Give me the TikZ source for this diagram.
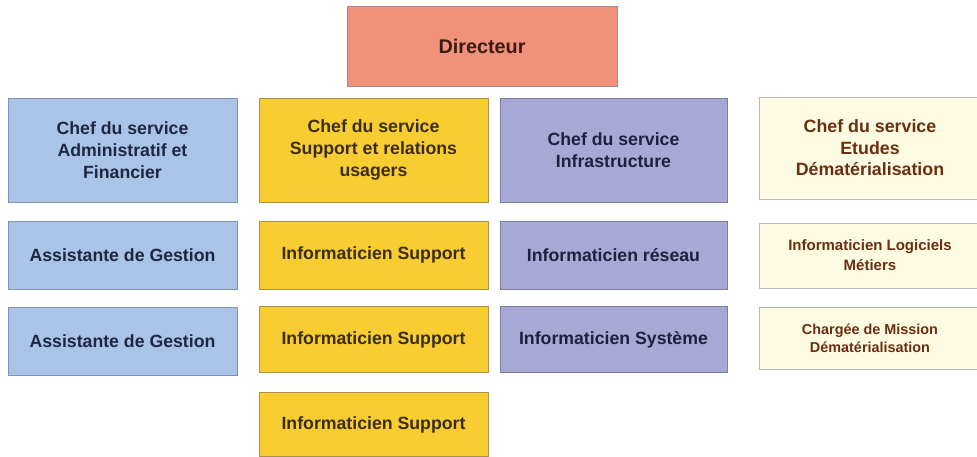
\documentclass[tikz,border=0pt]{standalone}
\usepackage{fontspec}
\setmainfont{Liberation Sans}
\begin{document}
\definecolor{dirfill}{HTML}{F0917A}
\definecolor{admfill}{HTML}{A9C4E7}
\definecolor{supfill}{HTML}{F8CD32}
\definecolor{inffill}{HTML}{A7A9D4}
\definecolor{etufill}{HTML}{FDFCE3}
\definecolor{dirline}{HTML}{9A8C9A}
\definecolor{admline}{HTML}{7F93B2}
\definecolor{supline}{HTML}{A8924A}
\definecolor{infline}{HTML}{7C7EA6}
\definecolor{etuline}{HTML}{B8B8B0}
\definecolor{dirtext}{HTML}{3A1A12}
\definecolor{admtext}{HTML}{1E2742}
\definecolor{suptext}{HTML}{3B2C14}
\definecolor{inftext}{HTML}{1E2040}
\definecolor{etutext}{HTML}{6A2E12}
\begin{tikzpicture}[x=1pt,y=-1pt,
  box/.style={rectangle,line width=0.8pt,inner sep=2pt,
    align=center,font=\bfseries\fontsize{17.7}{22}\selectfont},
  dirbox/.style={box,draw=dirline,fill=dirfill,text=dirtext,font=\bfseries\fontsize{19.8}{23}\selectfont},
  admbox/.style={box,draw=admline,fill=admfill,text=admtext},
  supbox/.style={box,draw=supline,fill=supfill,text=suptext},
  infbox/.style={box,draw=infline,fill=inffill,text=inftext},
  etubox/.style={box,draw=etuline,fill=etufill,text=etutext},
  % size of a box, from its width and height
  sz/.style 2 args={minimum width=#1pt,minimum height=#2pt}]
\useasboundingbox (0,0) rectangle (977,457);

% director
\node[dirbox,sz={270}{80}] (dir) at (482,46) {Directeur};

% administrative and finance service
\node[admbox,sz={229}{104}] (adm) at (122.5,150) {Chef du service\\Administratif et\\Financier};
\node[admbox,sz={229}{68}] (adm1) at (122.5,255) {Assistante de Gestion};
\node[admbox,sz={229}{68}] (adm2) at (122.5,341) {Assistante de Gestion};

% support and user relations service
\node[supbox,sz={229}{104}] (sup) at (373.5,150) {Chef du service\\Support et relations\\usagers};
\node[supbox,sz={229}{68}] (sup1) at (373.5,255) {Informaticien Support};
\node[supbox,sz={229}{66}] (sup2) at (373.5,339.5) {Informaticien Support};
\node[supbox,sz={229}{64}] (sup3) at (373.5,424.5) {Informaticien Support};

% infrastructure service
\node[infbox,sz={227}{104}] (inf) at (613.5,150) {Chef du service\\Infrastructure};
\node[infbox,sz={227}{68}] (inf1) at (613.5,255) {Informaticien réseau};
\node[infbox,sz={227}{66}] (inf2) at (613.5,339.5) {Informaticien Système};

% studies and dematerialisation service
\node[etubox,sz={222}{102},font=\bfseries\fontsize{17.8}{21.5}\selectfont] (etu) at (870,148) {Chef du service\\Etudes\\Dématérialisation};
\node[etubox,sz={222}{65},font=\bfseries\fontsize{15}{20}\selectfont] (etu1) at (870,255.5) {Informaticien Logiciels\\Métiers};
\node[etubox,sz={222}{62},font=\bfseries\fontsize{14.4}{18}\selectfont] (etu2) at (870,338) {Chargée de Mission\\Dématérialisation};
\end{tikzpicture}
\end{document}
